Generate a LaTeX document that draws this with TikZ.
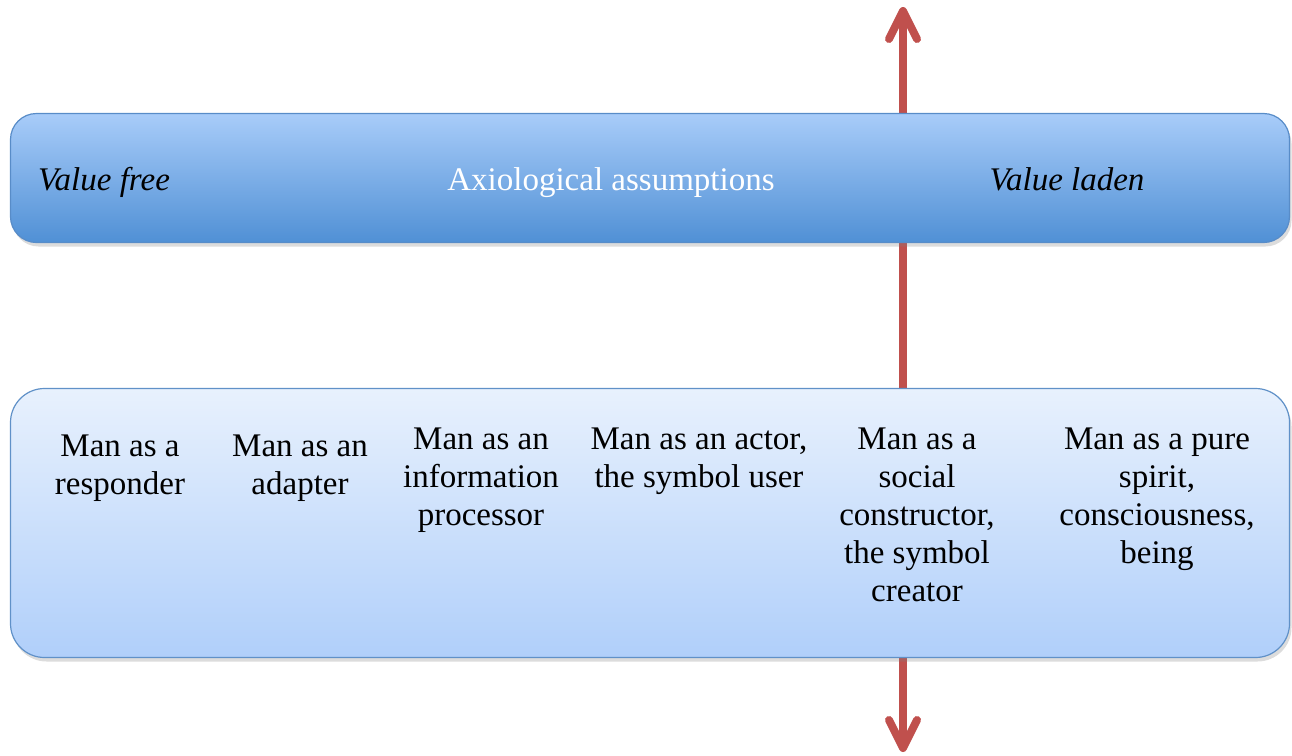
\documentclass[tikz,border=0pt]{standalone}
\usepackage{fontspec}
\setmainfont{Liberation Serif}
\usetikzlibrary{arrows.meta,shadows}
\definecolor{arrowred}{RGB}{192,80,77}
\definecolor{bandtop}{RGB}{168,204,249}
\definecolor{bandbot}{RGB}{80,144,213}
\definecolor{bandline}{RGB}{88,140,200}
\definecolor{paneltop}{RGB}{232,241,253}
\definecolor{panelbot}{RGB}{176,207,250}
\definecolor{panelline}{RGB}{96,145,200}
\tikzset{
  band/.style={draw=bandline, line width=1.2pt, rounded corners=26pt,
    top color=bandtop, bottom color=bandbot, inner sep=0pt,
    drop shadow={opacity=0.28, shadow xshift=2pt, shadow yshift=-4pt}},
  panel/.style={draw=panelline, line width=1.2pt, rounded corners=34pt,
    top color=paneltop, bottom color=panelbot, inner sep=0pt,
    drop shadow={opacity=0.28, shadow xshift=2pt, shadow yshift=-4pt}},
  barb/.tip={Straight Barb[length=28pt, width=28pt, line cap=round, line join=round]},
  axis/.style={draw=arrowred, line width=8pt, arrows={barb-barb}},
  label/.style={font=\fontsize{33}{38}\selectfont, inner sep=0pt, anchor=base},
  % multi-line items are placed by the baseline of their last line
  item/.style={label, align=center}
}
\begin{document}
\begin{tikzpicture}[x=1pt, y=-1pt]
  \useasboundingbox (0,0) rectangle (1292,755);
  % the value axis runs behind both bands
  \coordinate (up) at (903,7);
  \coordinate (down) at (903,752);
  \draw[axis] (down) -- (up);

  % upper band: axiology scale
  \node[band, minimum width=1279pt, minimum height=129pt] (scale) at (650,178) {};
  \node[label, font=\itshape\fontsize{33}{38}\selectfont, anchor=base west] (free) at (38,190) {Value free};
  \node[label, text=white] (axio) at (611,190) {Axiological assumptions};
  \node[label, font=\itshape\fontsize{33}{38}\selectfont] (laden) at (1067,190) {Value laden};

  % lower panel: views of man
  \node[panel, minimum width=1279pt, minimum height=269pt] (views) at (650,523) {};
  \node[item] (c1) at (120,494) {Man as a\\responder};
  \node[item] (c2) at (300,494) {Man as an\\adapter};
  \node[item] (c3) at (481,525) {Man as an\\information\\processor};
  \node[item] (c4) at (699,487) {Man as an actor,\\the symbol user};
  \node[item] (c5) at (917,601) {Man as a\\social\\constructor,\\the symbol\\creator};
  \node[item] (c6) at (1157,563) {Man as a pure\\spirit,\\consciousness,\\being};
\end{tikzpicture}
\end{document}
